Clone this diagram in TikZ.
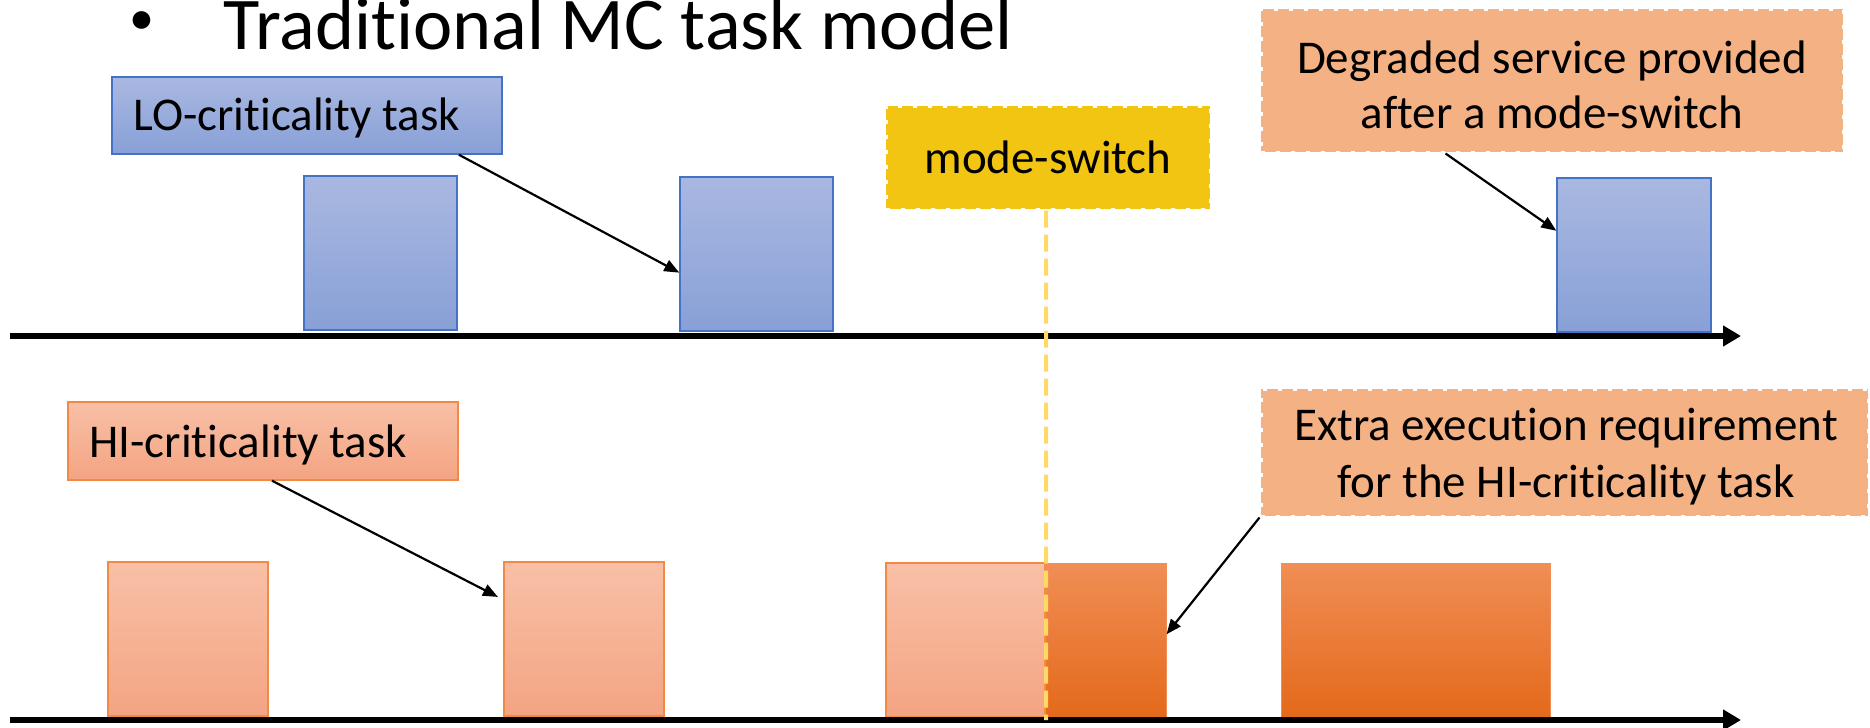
\documentclass[tikz,border=0pt]{standalone}
\usepackage{fontspec}
\setmainfont{Carlito}[Ligatures=NoCommon]
\usetikzlibrary{arrows.meta,fit,calc}

\definecolor{loTop}{HTML}{A9B8E1}
\definecolor{loBot}{HTML}{88A0D7}
\definecolor{loEdge}{HTML}{4472C4}
\definecolor{hiTop}{HTML}{F8C0A7}
\definecolor{hiBot}{HTML}{F4A482}
\definecolor{hiEdge}{HTML}{F08A45}
\definecolor{exTop}{HTML}{F08E55}
\definecolor{exMid}{HTML}{F47E2C}
\definecolor{exBot}{HTML}{E4691A}
\definecolor{noteFill}{HTML}{F4B183}
\definecolor{switchFill}{HTML}{F2C513}
\definecolor{switchLine}{HTML}{FFD966}

\begin{document}
\begin{tikzpicture}[x=0.5pt,y=-0.5pt,
  lobar/.style={draw=loEdge, line width=0.7pt, top color=loTop, bottom color=loBot, inner sep=0pt},
  hibar/.style={draw=hiEdge, line width=0.7pt, top color=hiTop, bottom color=hiBot, inner sep=0pt},
  exbar/.style={draw=exTop, line width=0.5pt, top color=exTop, middle color=exMid, bottom color=exBot, inner sep=0pt},
  notebox/.style={fill=noteFill, draw=white, line width=1.5pt, dash pattern=on 2pt off 5.5pt, inner sep=0pt},
  switchbox/.style={fill=switchFill, draw=white, line width=1.5pt, dash pattern=on 2pt off 5.5pt, inner sep=0pt},
  txt/.style={font=\fontsize{23.5}{28}\selectfont, inner sep=0pt, text=black},
  conn/.style={line width=1.1pt, -{Triangle[length=7.5pt,width=6pt]}},
  timeaxis/.style={line width=3pt, -{Triangle[length=9pt,width=10pt]}},
  switchline/.style={draw=switchLine, line width=2pt, dash pattern=on 8.5pt off 3.5pt}
]
\fill[white] (0,0) rectangle (1870,728);
\useasboundingbox (0,0) rectangle (1870,728);

% heading
\node[font=\fontsize{25}{29}\selectfont, inner sep=0pt, anchor=base] (bullet) at (142,34) {•};
\node[font=\fontsize{37.2}{42}\selectfont, inner sep=0pt, anchor=base west] (title) at (223,49.5) {Traditional MC task model};

% LO-criticality row
\node[lobar, fit={(112,77) (502,154)}] (lo) {};
\node[txt, anchor=base west] (lotxt) at (133,130) {LO-criticality task};
\node[lobar, fit={(304,176) (457,330)}] (b1) {};
\node[lobar, fit={(680,177) (833,331)}] (b2) {};
\node[lobar, fit={(1557,178) (1711,332)}] (b3) {};

\node[switchbox, fit={(886,106) (1210,209)}] (ms) {};
\node[txt, anchor=base] (mstxt) at (1048,173) {mode-switch};

\node[notebox, fit={(1261,9) (1843,152)}] (deg) {};
\node[txt, anchor=base] (deg1) at (1552,73) {Degraded service provided};
\node[txt, anchor=base] (deg2) at (1552,128) {after a mode-switch};

\coordinate (ax1s) at (10,336);
\coordinate (ax1e) at (1741,336);
\draw[timeaxis] (ax1s) -- (ax1e);

% HI-criticality row
\node[hibar, fit={(68,402) (458,480)}] (hi) {};
\node[txt, anchor=base west] (hitxt) at (89,457) {HI-criticality task};
\node[hibar, fit={(108,562) (268,716)}] (o1) {};
\node[hibar, fit={(504,562) (664,716)}] (o2) {};
\node[hibar, fit={(886,563) (1045,717)}] (o3) {};
\node[exbar, fit={(1045,563) (1166,718)}] (o4) {};
\node[exbar, fit={(1281,563) (1550,717)}] (o5) {};

\node[notebox, fit={(1261,389) (1868,516)}] (extra) {};
\node[txt, anchor=base] (ex1) at (1566,440) {Extra execution requirement};
\node[txt, anchor=base] (ex2) at (1566,497) {for the HI-criticality task};

\coordinate (ax2s) at (10,720);
\coordinate (ax2e) at (1741,720);
\draw[timeaxis] (ax2s) -- (ax2e);

% callout arrows
\draw[conn] ($(lo.south west)!0.888!(lo.south east)$) -- ($(b2.north west)!0.62!(b2.south west)$);
\draw[conn] ($(deg.south west)!0.318!(deg.south east)$) -- ($(b3.north west)!0.344!(b3.south west)$);
\draw[conn, shorten >=3pt] ($(hi.south west)!0.523!(hi.south east)$) -- ($(o2.north west)!0.247!(o2.south west)$);
\draw[conn] (extra.south west) -- ($(o4.north east)!0.46!(o4.south east)$);

% instant of the mode switch
\coordinate (msfoot) at (1046,720);
\draw[switchline] ($(ms.south west)!0.494!(ms.south east)$) -- (msfoot);
\end{tikzpicture}
\end{document}
